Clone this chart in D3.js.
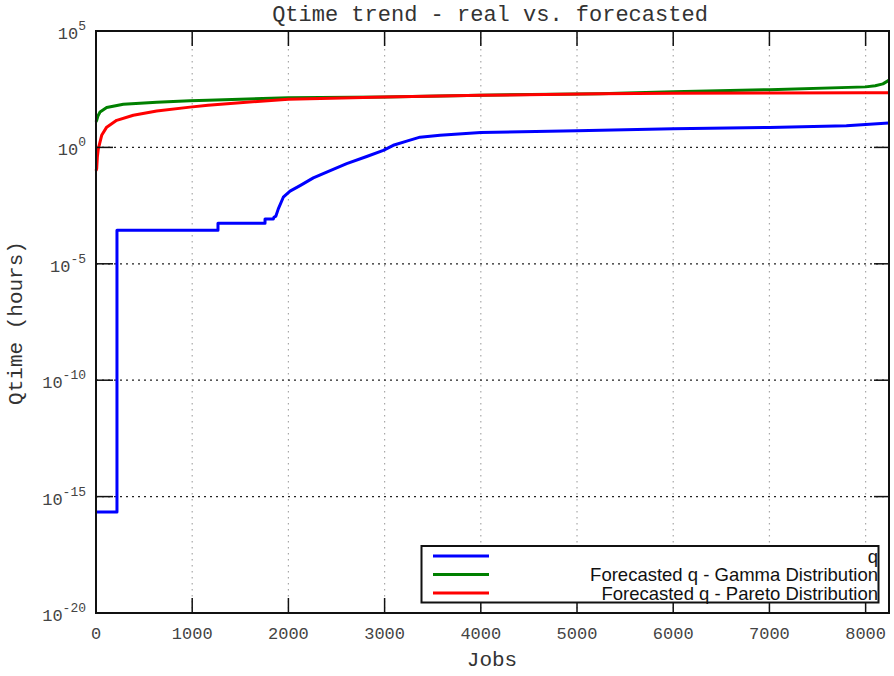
<!DOCTYPE html>
<html>
<head>
<meta charset="utf-8">
<script src="https://cdn.jsdelivr.net/npm/d3@7"></script>
<style>
  html, body { margin: 0; padding: 0; background: #fff; }
  svg { display: block; }
</style>
</head>
<body>
<svg id="chart" width="894" height="676"></svg>
<script>
// Queue time per job: measured q and two forecasts (hours, log scale)
const qJobs = [0, 218, 218, 1268, 1268, 1757, 1757, 1843, 1850, 1870, 1895, 1947, 2017, 2121, 2259, 2398, 2606, 2814, 2987, 3090, 3230, 3368, 3576, 4000, 5000, 6000, 7000, 7800, 8000, 8240];
const qValues = [2.2e-16, 2.2e-16, 2.78e-4, 2.78e-4, 5.56e-4, 5.56e-4, 8.33e-4, 8.33e-4, 1.0e-3, 1.12e-3, 2.29e-3, 7.24e-3, 1.32e-2, 2.29e-2, 4.9e-2, 8.71e-2, 0.2, 0.407, 0.741, 1.23, 1.86, 2.75, 3.31, 4.37, 5.25, 6.31, 7.24, 8.51, 9.55, 11.2];

const gammaJobs = [0, 7, 20, 42, 111, 284, 631, 977, 1164, 2000, 3000, 4000, 5240, 6000, 7000, 8000, 8100, 8180, 8240];
const gammaValues = [12.6, 14.5, 22.4, 33.1, 51.3, 70.8, 87.1, 100, 107, 135, 148, 174, 204, 245, 302, 398, 447, 537, 759];

const paretoJobs = [0, 7, 14, 24, 59, 111, 215, 388, 631, 977, 1164, 1530, 2000, 3000, 4000, 5240, 6000, 7000, 8000, 8240];
const paretoValues = [0.1, 0.12, 0.38, 0.87, 3.31, 7.41, 14.5, 24.0, 36.3, 53.7, 64.6, 85.1, 117, 148, 174, 200, 214, 219, 224, 224];

const seriesNames = ["q", "Forecasted q - Gamma Distribution", "Forecasted q - Pareto Distribution"];
const seriesColors = ["#0000ff", "#008000", "#ff0000"];

const xTicks = [0, 1000, 2000, 3000, 4000, 5000, 6000, 7000, 8000];
const yTickExponents = [-20, -15, -10, -5, 0, 5];
const xMax = 8243;

const titleText = "Qtime trend - real vs. forecasted";
const xLabel = "Jobs";
const yLabel = "Qtime (hours)";

const series = [
  { name: seriesNames[0], color: seriesColors[0], pts: qJobs.map((j, i) => [j, qValues[i]]) },
  { name: seriesNames[1], color: seriesColors[1], pts: gammaJobs.map((j, i) => [j, gammaValues[i]]) },
  { name: seriesNames[2], color: seriesColors[2], pts: paretoJobs.map((j, i) => [j, paretoValues[i]]) }
];

const svg = d3.select("#chart");
const M = { left: 96, top: 31, right: 889, bottom: 613 };
const mono = "'Liberation Mono', 'DejaVu Sans Mono', monospace";
const sans = "'Liberation Sans', Arial, sans-serif";

const x = d3.scaleLinear().domain([0, xMax]).range([M.left, M.right]);
const y = d3.scaleLog().domain([1e-20, 1e5]).range([M.bottom, M.top]);

svg.append("rect").attr("width", 894).attr("height", 676).attr("fill", "#fff");

// grid
const grid = svg.append("g");
grid.selectAll("line.vg").data(xTicks.filter(t => t > 0)).join("line")
  .attr("x1", d => x(d)).attr("x2", d => x(d))
  .attr("y1", M.top).attr("y2", M.bottom)
  .attr("stroke", "#a8a8a8").attr("stroke-width", 1.2).attr("stroke-dasharray", "1.5,4.5");
grid.selectAll("line.hg").data(yTickExponents.filter(e => e > -20 && e < 5)).join("line")
  .attr("x1", M.left).attr("x2", M.right)
  .attr("y1", d => y(Math.pow(10, d))).attr("y2", d => y(Math.pow(10, d)))
  .attr("stroke", "#222").attr("stroke-width", 1.2).attr("stroke-dasharray", "2,4");

// series lines
const line = d3.line().x(d => x(d[0])).y(d => y(d[1]));
svg.append("g").selectAll("path").data(series).join("path")
  .attr("d", d => line(d.pts))
  .attr("fill", "none")
  .attr("stroke", d => d.color)
  .attr("stroke-width", 3)
  .attr("stroke-linejoin", "round");

// frame
svg.append("rect")
  .attr("x", M.left).attr("y", M.top)
  .attr("width", M.right - M.left).attr("height", M.bottom - M.top)
  .attr("fill", "none").attr("stroke", "#111").attr("stroke-width", 2);

// ticks on all four sides, pointing inward
const tk = svg.append("g").attr("stroke", "#111").attr("stroke-width", 1.5);
xTicks.forEach(t => {
  tk.append("line").attr("x1", x(t)).attr("x2", x(t)).attr("y1", M.bottom).attr("y2", M.bottom - 15);
  tk.append("line").attr("x1", x(t)).attr("x2", x(t)).attr("y1", M.top).attr("y2", M.top + 15);
});
yTickExponents.forEach(e => {
  const yy = y(Math.pow(10, e));
  tk.append("line").attr("x1", M.left).attr("x2", M.left + 17).attr("y1", yy).attr("y2", yy);
  tk.append("line").attr("x1", M.right).attr("x2", M.right - 15).attr("y1", yy).attr("y2", yy);
});

// tick labels
svg.append("g").selectAll("text").data(xTicks).join("text")
  .attr("x", d => x(d)).attr("y", 639)
  .attr("text-anchor", "middle")
  .attr("font-family", mono).attr("font-size", 17).attr("fill", "#444")
  .text(d => d);

const yl = svg.append("g").selectAll("text").data(yTickExponents).join("text")
  .attr("x", 86).attr("y", d => y(Math.pow(10, d)) + 8)
  .attr("text-anchor", "end")
  .attr("font-family", mono).attr("fill", "#444");
yl.append("tspan").attr("font-size", 17).text("10");
yl.append("tspan").attr("font-size", 13).attr("dy", -9).text(d => String(d));

// titles
svg.append("text").attr("x", 490).attr("y", 21).attr("text-anchor", "middle")
  .attr("font-family", mono).attr("font-size", 22).attr("fill", "#333").text(titleText);
svg.append("text").attr("x", 492).attr("y", 666).attr("text-anchor", "middle")
  .attr("font-family", mono).attr("font-size", 21).attr("fill", "#333").text(xLabel);
svg.append("text").attr("transform", "translate(22,323) rotate(-90)").attr("text-anchor", "middle")
  .attr("font-family", mono).attr("font-size", 21).attr("fill", "#333").text(yLabel);

// legend
const lg = svg.append("g");
lg.append("rect").attr("x", 421.5).attr("y", 546).attr("width", 457).attr("height", 56.5)
  .attr("fill", "#fff").attr("stroke", "#111").attr("stroke-width", 2);
const rows = [556, 574.5, 593];
series.forEach((s, i) => {
  lg.append("line").attr("x1", 433).attr("x2", 489).attr("y1", rows[i]).attr("y2", rows[i])
    .attr("stroke", s.color).attr("stroke-width", 3);
  lg.append("text").attr("x", 878).attr("y", rows[i] + 6.5).attr("text-anchor", "end")
    .attr("font-family", sans).attr("font-size", 18.5).attr("fill", "#111").text(s.name);
});
</script>
</body>
</html>
